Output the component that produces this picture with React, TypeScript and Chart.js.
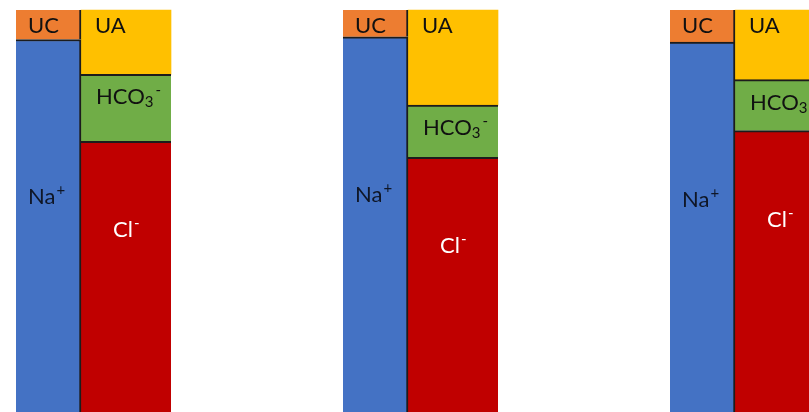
import React, { useEffect, useRef } from "react";
import { Chart, registerables } from "chart.js";

Chart.register(...registerables);

// ---- data (mEq/L) ----
const groups = ["Case 1", "Case 2", "Case 3"];
const sodium = [139, 140, 138];
const unmeasuredCations = [11, 10, 12];
const chloride = [101, 95, 105];
const bicarbonate = [25, 19.5, 19];
const unmeasuredAnions = [24, 35.5, 26];

// ---- label parts ----
type Part = { t: string; sub?: boolean; sup?: boolean };
const naLabel: Part[] = [{ t: "Na" }, { t: "+", sup: true }];
const ucLabel: Part[] = [{ t: "UC" }];
const clLabel: Part[] = [{ t: "Cl" }, { t: "-", sup: true }];
const hco3Label: Part[] = [{ t: "HCO" }, { t: "3", sub: true }, { t: "-", sup: true }];
const uaLabel: Part[] = [{ t: "UA" }];

const FONT = "Lato, 'Open Sans', sans-serif";
const EDGE = "#1c1c1c";

function drawRich(ctx: CanvasRenderingContext2D, parts: Part[], x: number, y: number, color: string) {
  ctx.save();
  ctx.fillStyle = color;
  ctx.textBaseline = "alphabetic";
  ctx.textAlign = "left";
  let cx = x;
  for (const p of parts) {
    if (p.sub) {
      ctx.font = `15px ${FONT}`;
      ctx.fillText(p.t, cx, y + 3);
      cx += ctx.measureText(p.t).width + 1;
    } else if (p.sup) {
      ctx.font = `15px ${FONT}`;
      ctx.fillText(p.t, cx + 1, y - 9);
      cx += ctx.measureText(p.t).width + 1;
    } else {
      ctx.font = `22px ${FONT}`;
      ctx.fillText(p.t, cx, y);
      cx += ctx.measureText(p.t).width;
    }
  }
  ctx.restore();
}

type LabelStyle = { parts: Part[]; dx: number; dy: number; color: string };
const labelStyles: LabelStyle[] = [
  { parts: naLabel, dx: 12, dy: 165, color: "#0f1626" },
  { parts: ucLabel, dx: 12, dy: 23, color: "#111111" },
  { parts: clLabel, dx: 32, dy: 96, color: "#ffffff" },
  { parts: hco3Label, dx: 15, dy: 30, color: "#111111" },
  { parts: uaLabel, dx: 14, dy: 23, color: "#111111" },
];

const labelPlugin = {
  id: "segLabels",
  afterDatasetsDraw(chart: any) {
    const ctx = chart.ctx as CanvasRenderingContext2D;
    chart.data.datasets.forEach((_ds: any, i: number) => {
      const style = labelStyles[i];
      const meta = chart.getDatasetMeta(i);
      meta.data.forEach((el: any) => {
        const { x, y, base, width } = el.getProps(["x", "y", "base", "width"], true);
        const left = x - width / 2;
        const top = Math.min(y, base);
        drawRich(ctx, style.parts, left + style.dx, top + style.dy, style.color);
      });
    });
  },
};

export default function App() {
  const ref = useRef<HTMLCanvasElement | null>(null);

  useEffect(() => {
    if (!ref.current) return;
    const catW = 65;
    const anW = 90;
    const common = { borderColor: EDGE, borderSkipped: false as const, clip: false as const };
    const chart = new Chart(ref.current, {
      type: "bar",
      data: {
        labels: groups,
        datasets: [
          {
            label: "Na+",
            data: sodium,
            stack: "cations",
            backgroundColor: "#4472C4",
            borderWidth: { top: 2, right: 2, bottom: 0, left: 0 },
            barThickness: catW,
            ...common,
          },
          {
            label: "UC",
            data: unmeasuredCations,
            stack: "cations",
            backgroundColor: "#ED7D31",
            borderWidth: { top: 0, right: 2, bottom: 0, left: 0 },
            barThickness: catW,
            ...common,
          },
          {
            label: "Cl-",
            data: chloride,
            stack: "anions",
            backgroundColor: "#C00000",
            borderWidth: { top: 2, right: 0, bottom: 0, left: 0 },
            barThickness: anW,
            ...common,
          },
          {
            label: "HCO3-",
            data: bicarbonate,
            stack: "anions",
            backgroundColor: "#70AD47",
            borderWidth: { top: 2, right: 0, bottom: 0, left: 0 },
            barThickness: anW,
            ...common,
          },
          {
            label: "UA",
            data: unmeasuredAnions,
            stack: "anions",
            backgroundColor: "#FFC000",
            borderWidth: 0,
            barThickness: anW,
            ...common,
          },
        ],
      },
      options: {
        animation: false,
        responsive: false,
        maintainAspectRatio: false,
        layout: { padding: { left: 81, right: 74, top: 10, bottom: 0 } },
        plugins: { legend: { display: false }, tooltip: { enabled: false } },
        scales: {
          x: { type: "category", stacked: true, display: false, offset: false },
          y: { stacked: true, display: false, min: 0, max: 150 },
        },
      },
      plugins: [labelPlugin],
    });
    return () => chart.destroy();
  }, []);

  return (
    <div style={{ position: "fixed", left: 0, top: 0, width: 809, height: 412, background: "#ffffff", overflow: "hidden" }}>
      <canvas ref={ref} width={809} height={412} style={{ display: "block" }} />
    </div>
  );
}
